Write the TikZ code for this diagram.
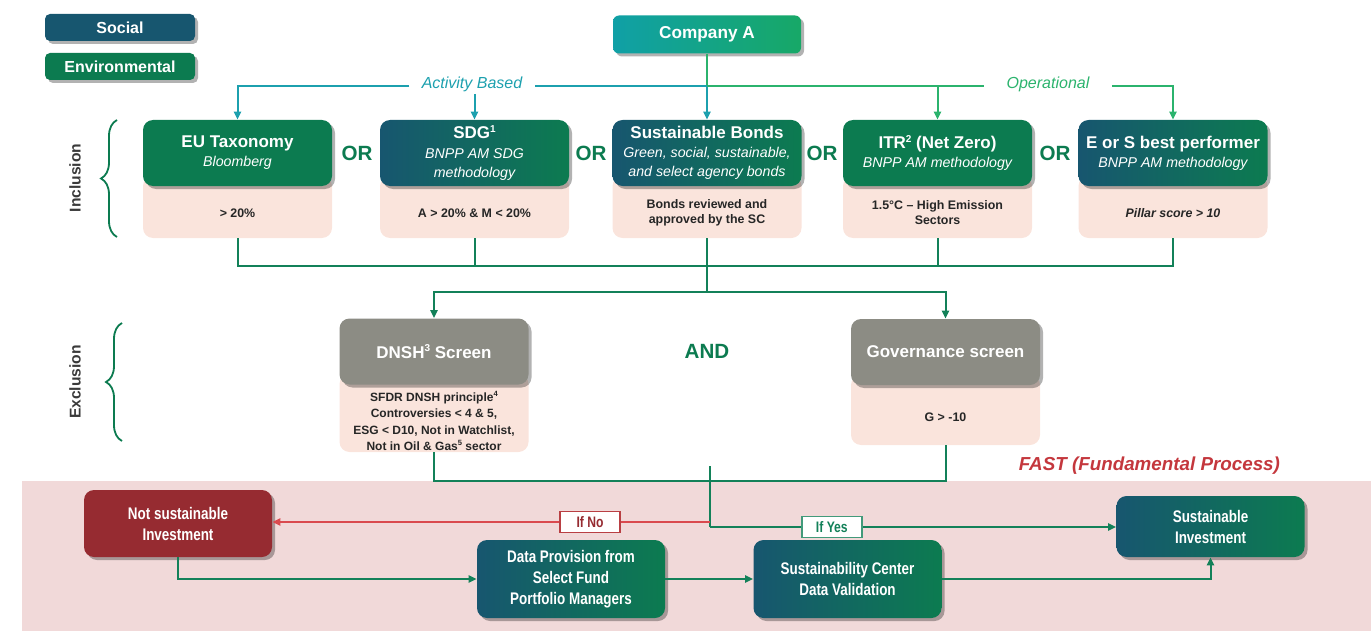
\documentclass[tikz,border=0pt]{standalone}
\usepackage{fontspec}
\setmainfont{Liberation Sans}
\newfontfamily\narrowfont[FakeStretch=0.8]{Liberation Sans}
\usepackage{xcolor}
\usepackage{tikz}
\usetikzlibrary{arrows.meta,shadows,decorations.pathreplacing}

\definecolor{envgreen}{HTML}{0C7B50}
\definecolor{socblue}{HTML}{17566F}
\definecolor{screengray}{HTML}{8C8C84}
\definecolor{pinkbg}{HTML}{FAE4DC}
\definecolor{notred}{HTML}{962B31}
\definecolor{bandpink}{HTML}{F1D9D9}
\definecolor{flowgreen}{HTML}{138159}
\definecolor{opgreen}{HTML}{2BB36D}
\definecolor{actteal}{HTML}{1CA0AE}
\definecolor{fastred}{HTML}{C4373D}
\definecolor{nored}{HTML}{DA4A4F}
\definecolor{labelgray}{HTML}{3A3A3A}
\definecolor{compteal}{HTML}{10A0A6}
\definecolor{compgreen}{HTML}{17A867}

\newcommand{\hdtitle}[1]{{\fontsize{8.5}{10}\selectfont\bfseries #1}}
\newcommand{\hdsub}[1]{{\fontsize{7.1}{9.6}\selectfont\itshape #1}}
% small footnote marks: #1 mark, #2 raise, #3 size
\newcommand{\fnmark}[3]{\raisebox{#2}{\fontsize{#3}{#3}\selectfont #1}}

\tikzset{
  shade box/.style={drop shadow={shadow xshift=1.5pt,shadow yshift=-1.5pt,opacity=0.3,fill=black}},
  mixfill/.style={left color=socblue,right color=envgreen},
  hdr/.style={rounded corners=5pt,minimum width=94.5pt,minimum height=33pt,inner sep=1pt,align=center,text=white,font=\fontsize{7.1}{9.6}\selectfont,shade box},
  pinkcell/.style={rounded corners=5pt,fill=pinkbg,minimum width=94.5pt,inner sep=0pt},
  pinktxt/.style={align=center,text=black!85,inner sep=0pt,font=\fontsize{6.2}{7.6}\selectfont\bfseries},
  legendbox/.style={rounded corners=2.5pt,minimum width=75pt,minimum height=13.5pt,text=white,font=\fontsize{8}{9}\selectfont\bfseries,shade box},
  compbox/.style={rounded corners=3pt,minimum width=94pt,minimum height=19pt,left color=compteal,right color=compgreen,text=white,font=\fontsize{8.6}{10}\selectfont\bfseries,shade box},
  andor/.style={text=envgreen,font=\fontsize{10.3}{12}\selectfont\bfseries},
  sidelab/.style={rotate=90,text=labelgray,font=\fontsize{7.8}{9}\selectfont\bfseries},
  curlybr/.style={draw=envgreen,line width=0.9pt,decorate,decoration={brace,amplitude=8pt}},
  stagebox/.style={rounded corners=5pt,minimum width=94pt,align=center,text=white,font=\narrowfont\bfseries\fontsize{8.4}{10.5}\selectfont,shade box},
  flow/.style={draw=flowgreen,line width=1pt},
  actline/.style={draw=actteal,line width=1pt},
  opline/.style={draw=opgreen,line width=1pt},
  noline/.style={draw=nored,line width=1pt},
  acttxt/.style={text=actteal,inner xsep=6pt,inner ysep=1pt,font=\fontsize{8}{9}\selectfont\itshape},
  optxt/.style={text=opgreen,inner xsep=11pt,inner ysep=1pt,font=\fontsize{8}{9}\selectfont\itshape},
  iflab/.style={fill=white,line width=0.8pt,minimum width=30pt,minimum height=10.5pt,inner sep=1pt,font=\narrowfont\bfseries\fontsize{7.6}{9}\selectfont},
  nolab/.style={iflab,draw=nored!85!black,text=notred},
  yeslab/.style={iflab,draw=flowgreen!80,text=flowgreen},
}

\begin{document}
\begin{tikzpicture}[x=0.5pt,y=0.5pt,yscale=-1,xscale=1,>={Triangle[length=4pt,width=3.6pt]}]
\useasboundingbox (0,0) rectangle (1371,631);

% FAST band
\fill[bandpink] (22,481) rectangle (1371,631);

% legend
\node[legendbox,fill=socblue] (soc) at (120,27.5) {Social};
\node[legendbox,fill=envgreen] (env) at (120,66.5) {Environmental};

% company
\node[compbox] (comp) at (707,34.5) {Company A};

% inclusion: pink cells first, headers on top
\node[pinkcell,minimum height=31pt] (eupk) at (237.5,207) {};
\node[pinkcell,minimum height=31pt] (sdgpk) at (474.5,207) {};
\node[pinkcell,minimum height=31pt] (bondpk) at (707,207) {};
\node[pinkcell,minimum height=31pt] (itrpk) at (937.5,207) {};
\node[pinkcell,minimum height=31pt] (esppk) at (1173,207) {};

\node[hdr,fill=envgreen] (eu) at (237.5,153) {\hdtitle{EU Taxonomy}\\\hdsub{Bloomberg}};
\node[hdr,mixfill] (sdg) at (474.5,153) {\hdtitle{SDG\fnmark{1}{3.2pt}{5}}\\\hdsub{BNPP AM SDG}\\\hdsub{methodology}};
\node[hdr,mixfill] (bond) at (707,153) {\hdtitle{Sustainable Bonds}\\\hdsub{Green, social, sustainable,}\\\hdsub{and select agency bonds}};
\node[hdr,fill=envgreen] (itr) at (937.5,153) {\hdtitle{ITR\fnmark{2}{3.2pt}{5} (Net Zero)}\\\hdsub{BNPP AM methodology}};
\node[hdr,mixfill] (esp) at (1173,153) {\hdtitle{E or S best performer}\\\hdsub{BNPP AM methodology}};

\node[pinktxt] (eutx) at (237.5,213) {> 20\%};
\node[pinktxt] (sdgtx) at (474.5,213) {A > 20\% \& M < 20\%};
\node[pinktxt] (bondtx) at (707,212.5) {Bonds reviewed and\\approved by the SC};
\node[pinktxt] (itrtx) at (937.5,212.5) {1.5°C -- High Emission\\Sectors};
\node[pinktxt] (esptx) at (1173,213) {\itshape Pillar score > 10};

\node[andor] (or1) at (357,153) {OR};
\node[andor] (or2) at (591,153) {OR};
\node[andor] (or3) at (822,153) {OR};
\node[andor] (or4) at (1055,153) {OR};

\node[sidelab] (incllab) at (75,178) {Inclusion};
\draw[curlybr] (117,237) -- (117,120);

% activity based / operational split
\node[acttxt] (act) at (472,84) {Activity Based};
\node[optxt] (op) at (1048,84) {Operational};
\coordinate (split) at (707,86);
\draw[opline] (comp.south) -- (split);
\draw[actline] (split) -- (split -| act.east);
\draw[actline,->] (act.west |- split) -| (eu.north);
\draw[actline,->] (sdg.north |- act.south) -- (sdg.north);
\draw[actline,->] (split) -- (bond.north);
\draw[opline] (split) -- (split -| op.west);
\draw[opline,->] (op.east |- split) -| (esp.north);
\draw[opline,->] (itr.north |- split) -- (itr.north);

% exclusion
\node[pinkcell,minimum height=39pt] (dnshpk) at (434,413) {};
\node[pinkcell,minimum height=35pt] (govpk) at (945.5,410) {};
\node[hdr,fill=screengray] (dnsh) at (434,351.5) {\hdtitle{DNSH\fnmark{3}{3.2pt}{5} Screen}};
\node[hdr,fill=screengray] (gov) at (945.5,352) {\hdtitle{Governance screen}};
\node[pinktxt,font=\fontsize{6}{8.2}\selectfont\bfseries] (dnshtx) at (434,421) {SFDR DNSH principle\fnmark{4}{2.3pt}{3.8}\\Controversies < 4 \& 5,\\ESG < D10, Not in Watchlist,\\Not in Oil \& Gas\fnmark{5}{2.3pt}{3.8} sector};
\node[pinktxt] (govtx) at (945.5,417) {G > -10};
\node[andor] (and) at (707,351) {AND};

\node[sidelab] (excllab) at (75,382) {Exclusion};
\draw[curlybr] (122,441) -- (122,323);

\coordinate (incl) at (707,266);
\coordinate (excl) at (707,292);
\draw[flow] (eupk.south) |- (esppk.south |- incl) -- (esppk.south);
\draw[flow] (sdgpk.south) -- (sdgpk.south |- incl);
\draw[flow] (itrpk.south) -- (itrpk.south |- incl);
\draw[flow] (bondpk.south) -- (excl);
\draw[flow,->] (excl) -| (dnsh.north);
\draw[flow,->] (excl) -| (gov.north);

% FAST
\node[anchor=east,text=fastred,font=\fontsize{9.4}{11}\selectfont\bfseries\itshape] (fastlab) at (1287,466) {FAST (Fundamental Process)};

\node[stagebox,fill=notred,minimum height=33.5pt] (notsus) at (178,523.5) {Not sustainable\\Investment};
\node[stagebox,mixfill,minimum height=39pt] (datap) at (571,579) {Data Provision from\\Select Fund\\Portfolio Managers};
\node[stagebox,mixfill,minimum height=39pt] (valid) at (847.5,579) {Sustainability Center\\Data Validation};
\node[stagebox,mixfill,minimum height=30.5pt] (susinv) at (1210.5,526.5) {Sustainable\\Investment};

\coordinate (fast) at (710,481);
\coordinate (dec) at (710,466);
\coordinate (no) at (710,522);
\coordinate (yes) at (710,527);
\draw[flow] (dnshpk.south) |- (govpk.south |- fast) -- (govpk.south);
\draw[flow] (dec) -- (yes);
\draw[noline,->] (no) -- node[nolab,pos=0.274] (ifno) {If No} (notsus.east |- no);
\draw[flow,->] (yes) -- node[yeslab,pos=0.3] (ifyes) {If Yes} (susinv.west |- yes);

\draw[flow,->] (notsus.south) |- (datap.west);
\draw[flow,->] (datap) -- (valid);
\draw[flow,->] (valid.east) -| (susinv.south);

\end{tikzpicture}
\end{document}
